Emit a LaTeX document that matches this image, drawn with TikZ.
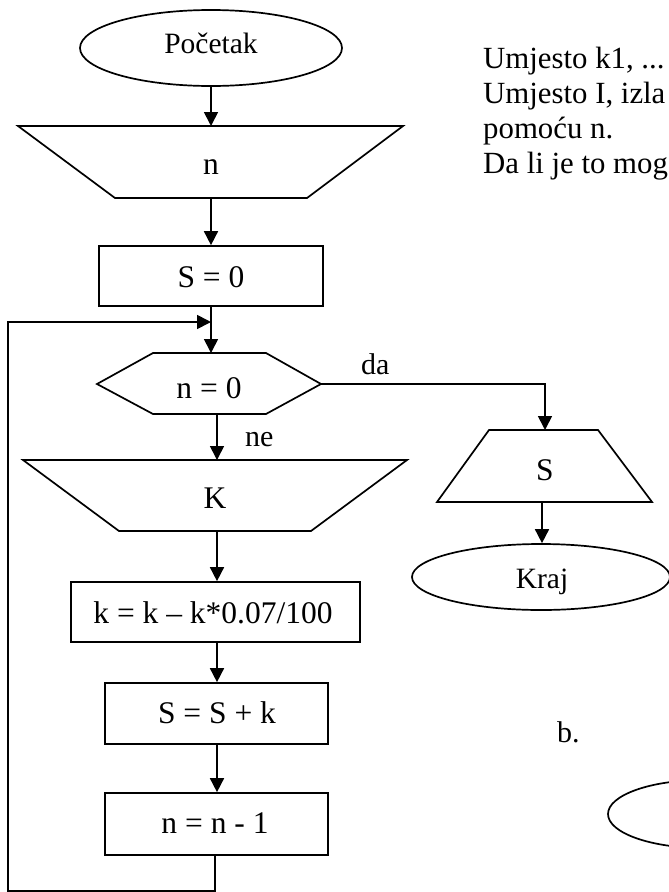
\documentclass[tikz,border=0pt]{standalone}
\usepackage{fontspec}
\setmainfont{Liberation Serif}
\usetikzlibrary{shapes.geometric,arrows.meta}
\tikzset{
  ln/.style={line width=1.7pt},
  arr/.style={ln,-{Triangle[length=14pt,width=14pt]}},
  big/.style={font=\fontsize{31.5}{35}\selectfont, inner sep=0pt, anchor=base},
  mid/.style={font=\fontsize{29.5}{35}\selectfont, inner sep=0pt, anchor=base},
  lefttxt/.style={font=\fontsize{30.8}{35}\selectfont, inner sep=0pt, anchor=base west},
  oval/.style={ln, draw, ellipse, inner sep=0pt},
  box/.style={ln, draw, rectangle, inner sep=0pt}
}
\begin{document}
\begin{tikzpicture}[x=1pt,y=-1pt]
\useasboundingbox (0,0) rectangle (669,892);
\clip (0,0) rectangle (669,892);
\fill[white] (0,0) rectangle (669,892);

% start
\node[oval, minimum width=262pt, minimum height=76pt] (poc) at (211,48) {};
\node[mid] (pocT) at (211,53) {Početak};

% input n
\coordinate (ntop) at (211,126);
\coordinate (nbot) at (211,198);
\draw[ln] (18,126) -- (403,126) -- (307,198) -- (115,198) -- cycle;
\node[big] (nT) at (211,174) {n};

% S = 0
\node[box, minimum width=224pt, minimum height=60pt] (s0) at (211,276) {};
\node[big] (s0T) at (211,287) {S = 0};

% decision n = 0
\coordinate (J) at (211,322);
\coordinate (htop) at (211,353);
\coordinate (hbot) at (217,414);
\coordinate (hright) at (321,384);
\draw[ln] (97,384) -- (153,353) -- (266,353) -- (321,384) -- (266,414) -- (153,414) -- cycle;
\node[big] (hT) at (209,398) {n = 0};

% input K
\coordinate (Ktop) at (217,460);
\coordinate (Kbot) at (217,531);
\draw[ln] (23,460) -- (407,460) -- (311,531) -- (119,531) -- cycle;
\node[big] (KT) at (215,508) {K};

% processes
\node[box, minimum width=289pt, minimum height=60pt] (kr) at (215.5,612) {};
\node[big] (krT) at (213,623) {k = k – k*0.07/100};
\node[box, minimum width=223pt, minimum height=61pt] (ss) at (216.5,713.5) {};
\node[big] (ssT) at (217,723) {S = S + k};
\node[box, minimum width=223pt, minimum height=62pt] (n1) at (216.5,824) {};
\node[big] (n1T) at (215,833) {n = n - 1};

% output S
\coordinate (Stop) at (545,430);
\coordinate (Sbot) at (542,502);
\draw[ln] (489,430) -- (598,430) -- (652,502) -- (437,502) -- cycle;
\node[big] (ST) at (545,480) {S};

% end
\node[oval, minimum width=258pt, minimum height=66pt] (kraj) at (541,577) {};
\node[mid] (krajT) at (542,588) {Kraj};

% second ellipse (partly visible)
\node[oval, minimum width=190pt, minimum height=68pt] (e2) at (703,814) {};

% labels
\node[lefttxt, font=\fontsize{30}{35}\selectfont] (ne) at (245,446) {ne};
\node[lefttxt, font=\fontsize{30}{35}\selectfont] (da) at (361,374) {da};
\node[lefttxt, font=\fontsize{30}{35}\selectfont] (b) at (557,742) {b.};

% text
\node[lefttxt] (l1) at (483,68) {Umjesto k1, ...};
\node[lefttxt] (l2) at (483,103) {Umjesto I, izla};
\node[lefttxt] (l3) at (483,138) {pomoću n.};
\node[lefttxt] (l4) at (483,173) {Da li je to mog};

% connectors
\draw[arr] (poc.south) -- (ntop);
\draw[arr] (nbot) -- (s0.north);
\draw[arr] (s0.south) -- (htop);
\draw[arr] (hbot) -- (Ktop);
\draw[arr] (hright) -| (Stop);
\draw[arr] (Kbot) -- (Kbot |- kr.north);
\draw[arr] (Kbot |- kr.south) -- (Kbot |- ss.north);
\draw[arr] (Kbot |- ss.south) -- (Kbot |- n1.north);
\coordinate (lb) at (8,891);
\coordinate (n1b) at (215,855);
\draw[arr] (n1b) |- (lb) |- (J);
\draw[arr] (Sbot) -- (Sbot |- kraj.north);
\end{tikzpicture}
\end{document}
